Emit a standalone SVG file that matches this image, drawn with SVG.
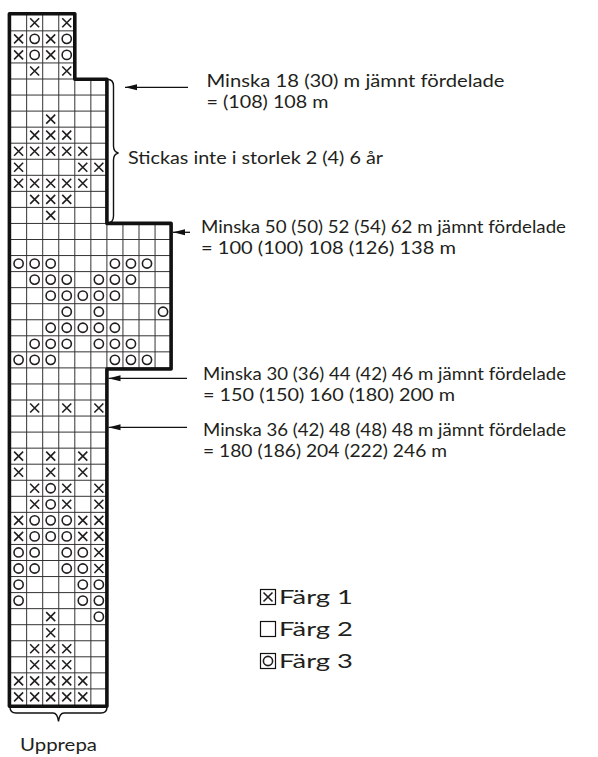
<svg xmlns="http://www.w3.org/2000/svg" width="598" height="757" viewBox="0 0 598 757">
<style>
.grid{fill:none;stroke:#333;stroke-width:1}
.outline{fill:none;stroke:#111;stroke-width:3.6;stroke-linejoin:round}
.brace{fill:none;stroke:#111;stroke-width:1.4}
.mk{fill:none;stroke:#231f20;stroke-width:1.6}
.arrow{stroke:#111;stroke-width:1.3;marker-start:url(#ah)}
text{font-family:Lato,"Open Sans",sans-serif;fill:#231f20;font-size:17.5px}
.leg{font-size:20px}
</style>
<defs>
<marker id="ah" viewBox="0 0 12 8" refX="0" refY="4" markerWidth="12" markerHeight="8" markerUnits="userSpaceOnUse" orient="auto"><path d="M0 4 L12 1 L12 7 Z" fill="#111"/></marker>
<g id="mx"><path class="mk" d="M3.5 3.5 L12.5 12.5 M12.5 3.5 L3.5 12.5"/></g>
<g id="mo"><circle class="mk" cx="8" cy="8" r="4.6"/></g>
</defs>

<g id="chart">
<path class="grid" d="M10.6 30.85H74.8M10.6 46.9H74.8M10.6 62.95H74.8
M10.6 79H106.9M10.6 95.05H106.9M10.6 111.1H106.9M10.6 127.15H106.9M10.6 143.2H106.9M10.6 159.25H106.9M10.6 175.3H106.9M10.6 191.35H106.9M10.6 207.4H106.9
M10.6 223.45H171.1M10.6 239.5H171.1M10.6 255.55H171.1M10.6 271.6H171.1M10.6 287.65H171.1M10.6 303.7H171.1M10.6 319.75H171.1M10.6 335.8H171.1M10.6 351.85H171.1M10.6 367.9H171.1
M10.6 383.95H106.9M10.6 400H106.9M10.6 416.05H106.9M10.6 432.1H106.9M10.6 448.15H106.9M10.6 464.2H106.9M10.6 480.25H106.9M10.6 496.3H106.9M10.6 512.35H106.9M10.6 528.4H106.9M10.6 544.45H106.9M10.6 560.5H106.9M10.6 576.55H106.9M10.6 592.6H106.9M10.6 608.65H106.9M10.6 624.7H106.9M10.6 640.75H106.9M10.6 656.8H106.9M10.6 672.85H106.9M10.6 688.9H106.9
M26.65 14.8V705M42.7 14.8V705M58.75 14.8V705M74.8 14.8V705M90.85 79V705M106.9 79V705
M122.95 223.45V367.9M139 223.45V367.9M155.05 223.45V367.9"/>

<g id="marks">
<use href="#mx" x="26.65" y="14.8"/><use href="#mx" x="58.75" y="14.8"/>
<use href="#mx" x="10.6" y="30.85"/><use href="#mo" x="26.65" y="30.85"/><use href="#mx" x="42.7" y="30.85"/><use href="#mo" x="58.75" y="30.85"/>
<use href="#mx" x="10.6" y="46.9"/><use href="#mo" x="26.65" y="46.9"/><use href="#mx" x="42.7" y="46.9"/><use href="#mo" x="58.75" y="46.9"/>
<use href="#mx" x="26.65" y="62.95"/><use href="#mx" x="58.75" y="62.95"/>

<use href="#mx" x="42.7" y="111.1"/>
<use href="#mx" x="26.65" y="127.15"/><use href="#mx" x="42.7" y="127.15"/><use href="#mx" x="58.75" y="127.15"/>
<use href="#mx" x="10.6" y="143.2"/><use href="#mx" x="26.65" y="143.2"/><use href="#mx" x="42.7" y="143.2"/><use href="#mx" x="58.75" y="143.2"/><use href="#mx" x="74.8" y="143.2"/>
<use href="#mx" x="10.6" y="159.25"/><use href="#mx" x="74.8" y="159.25"/><use href="#mx" x="90.85" y="159.25"/>
<use href="#mx" x="10.6" y="175.3"/><use href="#mx" x="26.65" y="175.3"/><use href="#mx" x="42.7" y="175.3"/><use href="#mx" x="58.75" y="175.3"/><use href="#mx" x="74.8" y="175.3"/>
<use href="#mx" x="26.65" y="191.35"/><use href="#mx" x="42.7" y="191.35"/><use href="#mx" x="58.75" y="191.35"/>
<use href="#mx" x="42.7" y="207.4"/>

<use href="#mo" x="10.6" y="255.55"/><use href="#mo" x="26.65" y="255.55"/><use href="#mo" x="42.7" y="255.55"/><use href="#mo" x="106.9" y="255.55"/><use href="#mo" x="122.95" y="255.55"/><use href="#mo" x="139" y="255.55"/>
<use href="#mo" x="26.65" y="271.6"/><use href="#mo" x="42.7" y="271.6"/><use href="#mo" x="58.75" y="271.6"/><use href="#mo" x="90.85" y="271.6"/><use href="#mo" x="106.9" y="271.6"/><use href="#mo" x="122.95" y="271.6"/>
<use href="#mo" x="42.7" y="287.65"/><use href="#mo" x="58.75" y="287.65"/><use href="#mo" x="74.8" y="287.65"/><use href="#mo" x="90.85" y="287.65"/><use href="#mo" x="106.9" y="287.65"/>
<use href="#mo" x="58.75" y="303.7"/><use href="#mo" x="90.85" y="303.7"/><use href="#mo" x="155.05" y="303.7"/>
<use href="#mo" x="42.7" y="319.75"/><use href="#mo" x="58.75" y="319.75"/><use href="#mo" x="74.8" y="319.75"/><use href="#mo" x="90.85" y="319.75"/><use href="#mo" x="106.9" y="319.75"/>
<use href="#mo" x="26.65" y="335.8"/><use href="#mo" x="42.7" y="335.8"/><use href="#mo" x="58.75" y="335.8"/><use href="#mo" x="90.85" y="335.8"/><use href="#mo" x="106.9" y="335.8"/><use href="#mo" x="122.95" y="335.8"/>
<use href="#mo" x="10.6" y="351.85"/><use href="#mo" x="26.65" y="351.85"/><use href="#mo" x="42.7" y="351.85"/><use href="#mo" x="106.9" y="351.85"/><use href="#mo" x="122.95" y="351.85"/><use href="#mo" x="139" y="351.85"/>

<use href="#mx" x="26.65" y="400"/><use href="#mx" x="58.75" y="400"/><use href="#mx" x="90.85" y="400"/>
<use href="#mx" x="10.6" y="448.15"/><use href="#mx" x="42.7" y="448.15"/><use href="#mx" x="74.8" y="448.15"/>
<use href="#mx" x="10.6" y="464.2"/><use href="#mx" x="42.7" y="464.2"/><use href="#mx" x="74.8" y="464.2"/>
<use href="#mx" x="26.65" y="480.25"/><use href="#mo" x="42.7" y="480.25"/><use href="#mx" x="58.75" y="480.25"/><use href="#mx" x="90.85" y="480.25"/>
<use href="#mx" x="26.65" y="496.3"/><use href="#mo" x="42.7" y="496.3"/><use href="#mx" x="58.75" y="496.3"/><use href="#mx" x="90.85" y="496.3"/>
<use href="#mx" x="10.6" y="512.35"/><use href="#mo" x="26.65" y="512.35"/><use href="#mo" x="42.7" y="512.35"/><use href="#mo" x="58.75" y="512.35"/><use href="#mx" x="74.8" y="512.35"/><use href="#mx" x="90.85" y="512.35"/>
<use href="#mx" x="10.6" y="528.4"/><use href="#mo" x="26.65" y="528.4"/><use href="#mo" x="42.7" y="528.4"/><use href="#mo" x="58.75" y="528.4"/><use href="#mx" x="74.8" y="528.4"/><use href="#mx" x="90.85" y="528.4"/>
<use href="#mo" x="10.6" y="544.45"/><use href="#mo" x="26.65" y="544.45"/><use href="#mo" x="58.75" y="544.45"/><use href="#mo" x="74.8" y="544.45"/><use href="#mx" x="90.85" y="544.45"/>
<use href="#mo" x="10.6" y="560.5"/><use href="#mo" x="26.65" y="560.5"/><use href="#mo" x="58.75" y="560.5"/><use href="#mo" x="74.8" y="560.5"/><use href="#mx" x="90.85" y="560.5"/>
<use href="#mo" x="10.6" y="576.55"/><use href="#mo" x="74.8" y="576.55"/><use href="#mo" x="90.85" y="576.55"/>
<use href="#mo" x="10.6" y="592.6"/><use href="#mo" x="74.8" y="592.6"/><use href="#mo" x="90.85" y="592.6"/>
<use href="#mx" x="42.7" y="608.65"/><use href="#mo" x="90.85" y="608.65"/>
<use href="#mx" x="42.7" y="624.7"/>
<use href="#mx" x="26.65" y="640.75"/><use href="#mx" x="42.7" y="640.75"/><use href="#mx" x="58.75" y="640.75"/>
<use href="#mx" x="26.65" y="656.8"/><use href="#mx" x="42.7" y="656.8"/><use href="#mx" x="58.75" y="656.8"/>
<use href="#mx" x="10.6" y="672.85"/><use href="#mx" x="26.65" y="672.85"/><use href="#mx" x="42.7" y="672.85"/><use href="#mx" x="58.75" y="672.85"/><use href="#mx" x="74.8" y="672.85"/>
<use href="#mx" x="10.6" y="688.9"/><use href="#mx" x="26.65" y="688.9"/><use href="#mx" x="42.7" y="688.9"/><use href="#mx" x="58.75" y="688.9"/><use href="#mx" x="74.8" y="688.9"/>
</g>

<path class="outline" d="M9.4 13.8H74.8V79.2H106.9V223.4H171.1V369H106.9V706.2H9.4Z"/>
</g>

<g id="braces">
<path class="brace" d="M107 79.3Q113.5 79.3 113.5 86V146Q113.5 152 118.5 153Q113.5 154 113.5 160V216Q113.5 223 107 223.3"/>
<path class="brace" d="M10 707Q10 713 16 713H53Q57.5 713 58.5 721.5Q59.5 713 64 713H101Q107 713 107 707"/>
</g>

<g id="connectors">
<line class="arrow" x1="125" y1="87.3" x2="188" y2="87.3"/>
<line class="arrow" x1="173" y1="232.3" x2="190" y2="232.3"/>
<line class="arrow" x1="108.5" y1="378.3" x2="187" y2="378.3"/>
<line class="arrow" x1="108.5" y1="427.3" x2="187" y2="427.3"/>
</g>

<g id="labels">
<text x="206.5" y="87" textLength="298" lengthAdjust="spacingAndGlyphs">Minska 18 (30) m jämnt fördelade</text>
<text x="206.5" y="108" textLength="122" lengthAdjust="spacingAndGlyphs">= (108) 108 m</text>
<text x="128" y="164" textLength="255" lengthAdjust="spacingAndGlyphs">Stickas inte i storlek 2 (4) 6 år</text>
<text x="201" y="233" textLength="365" lengthAdjust="spacingAndGlyphs">Minska 50 (50) 52 (54) 62 m jämnt fördelade</text>
<text x="201" y="254" textLength="255" lengthAdjust="spacingAndGlyphs">= 100 (100) 108 (126) 138 m</text>
<text x="203" y="380" textLength="363" lengthAdjust="spacingAndGlyphs">Minska 30 (36) 44 (42) 46 m jämnt fördelade</text>
<text x="203" y="401" textLength="252" lengthAdjust="spacingAndGlyphs">= 150 (150) 160 (180) 200 m</text>
<text x="203" y="436" textLength="363" lengthAdjust="spacingAndGlyphs">Minska 36 (42) 48 (48) 48 m jämnt fördelade</text>
<text x="203" y="457" textLength="244" lengthAdjust="spacingAndGlyphs">= 180 (186) 204 (222) 246 m</text>
<text x="20" y="751" textLength="77" lengthAdjust="spacingAndGlyphs">Upprepa</text>
</g>

<g id="legend">
<g id="leg1"><rect x="260.5" y="589.5" width="15" height="15" fill="none" stroke="#111" stroke-width="1.2"/><use href="#mx" x="260" y="589"/><text class="leg" x="279" y="604" textLength="74" lengthAdjust="spacingAndGlyphs">Färg 1</text></g>
<g id="leg2"><rect x="260.5" y="621.5" width="15" height="15" fill="none" stroke="#111" stroke-width="1.2"/><text class="leg" x="279" y="636" textLength="74" lengthAdjust="spacingAndGlyphs">Färg 2</text></g>
<g id="leg3"><rect x="260.5" y="653.5" width="15" height="15" fill="none" stroke="#111" stroke-width="1.2"/><use href="#mo" x="260" y="653"/><text class="leg" x="279" y="668" textLength="74" lengthAdjust="spacingAndGlyphs">Färg 3</text></g>
</g>
</svg>
